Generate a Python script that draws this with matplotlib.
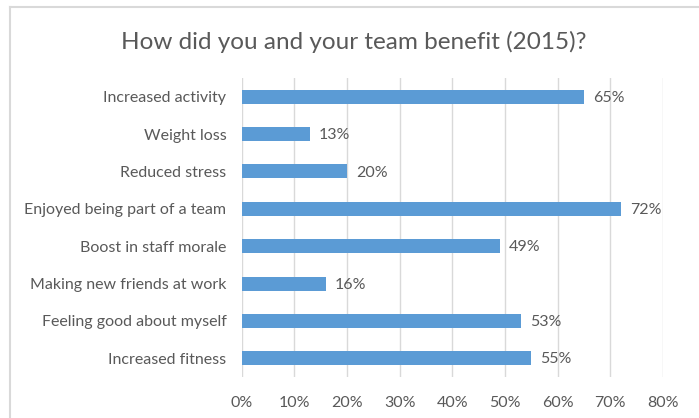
import matplotlib
matplotlib.use("Agg")
import matplotlib.pyplot as plt
from matplotlib.lines import Line2D

categories = ["Increased activity", "Weight loss", "Reduced stress",
              "Enjoyed being part of a team", "Boost in staff morale",
              "Making new friends at work", "Feeling good about myself",
              "Increased fitness"]
values = [65, 13, 20, 72, 49, 16, 53, 55]
xticks = [0, 10, 20, 30, 40, 50, 60, 70, 80]
xtick_labels = [f"{t}%" for t in xticks]
title = "How did you and your team benefit (2015)?"

plt.rcParams['font.family'] = ['Lato', 'DejaVu Sans']
text_color = "#595959"
bar_color = "#5B9BD5"

fig = plt.figure(figsize=(6.99, 4.18), dpi=100)
ax = fig.add_axes([0.3458, 0.098, 0.6027, 0.7154])

ypos = list(range(len(categories)))
ax.barh(ypos, values, height=0.375, color=bar_color, zorder=3)
for y, v in zip(ypos, values):
    ax.text(v + 1.7, y + 0.03, f"{v}%", va="center", ha="left", fontsize=11.5, color=text_color)

ax.set_ylim(len(categories) - 0.5, -0.5)
ax.set_yticks(ypos)
ax.set_yticklabels(categories, fontsize=11.5, color=text_color)
ax.set_xlim(0, 80)
ax.set_xticks(xticks)
ax.set_xticklabels(xtick_labels, fontsize=11.5, color=text_color)
ax.tick_params(axis="y", length=0, pad=11)
ax.tick_params(axis="x", length=0, pad=14)
ax.grid(axis="x", color="#D9D9D9", linewidth=1, zorder=0)
for s in ax.spines.values():
    s.set_visible(False)

fig.text(0.506, 0.90, title, ha="center", va="center", fontsize=17.5, color=text_color)

# partial chart border (top and left)
fig.add_artist(Line2D([10/699, 1], [1 - 6.5/418, 1 - 6.5/418], transform=fig.transFigure, color="#D9D9D9", linewidth=1.5))
fig.add_artist(Line2D([10/699, 10/699], [0, 1 - 6.5/418], transform=fig.transFigure, color="#D9D9D9", linewidth=1.5))

fig.savefig("out.png", dpi=100)
